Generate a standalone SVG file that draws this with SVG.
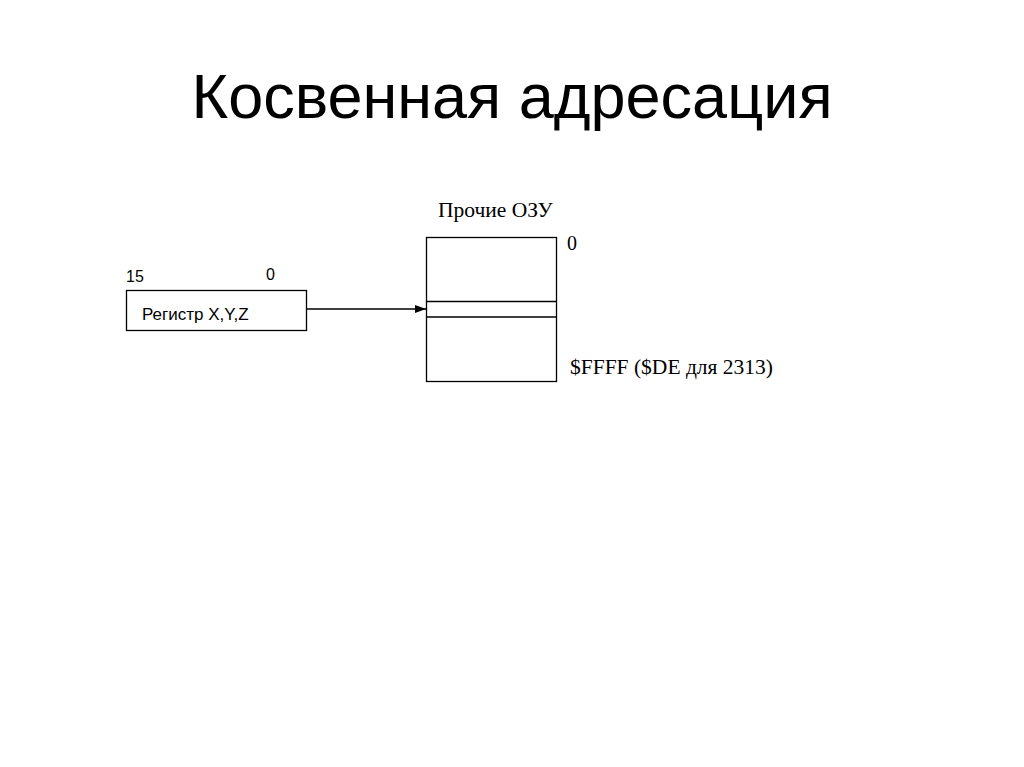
<svg xmlns="http://www.w3.org/2000/svg" width="1024" height="767" viewBox="0 0 1024 767">
<style>
.sans{font-family:"Liberation Sans",Arial,sans-serif;fill:#000}
.serif{font-family:"Liberation Serif","Times New Roman",serif;fill:#000}
.box{fill:#fff;stroke:#000;stroke-width:1.3}
.ln{stroke:#000;stroke-width:1.3;fill:none}
</style>
<defs>
<marker id="arr" markerWidth="11" markerHeight="8" refX="11" refY="4" orient="auto" markerUnits="userSpaceOnUse">
<path d="M0,0 L11,4 L0,8 Z" fill="#000"/>
</marker>
</defs>
<rect width="1024" height="767" fill="#fff"/>
<text id="title" class="sans" x="512" y="118" font-size="63" text-anchor="middle">Косвенная адресация</text>
<g id="register">
<rect class="box" x="126.5" y="290.5" width="180" height="40"/>
<text class="sans" x="142" y="320" font-size="17">Регистр X,Y,Z</text>
<text class="sans" x="126" y="282" font-size="16">15</text>
<text class="sans" x="266" y="280" font-size="16">0</text>
</g>
<g id="memory">
<rect class="box" x="426.5" y="237.5" width="130" height="144"/>
<line class="ln" x1="426.5" y1="301.5" x2="556.5" y2="301.5"/>
<line class="ln" x1="426.5" y1="317" x2="556.5" y2="317"/>
<text class="serif" x="438" y="217" font-size="21.5">Прочие ОЗУ</text>
<text class="serif" x="567" y="250" font-size="20">0</text>
<text class="serif" x="570" y="374" font-size="21.5">$FFFF ($DE для 2313)</text>
</g>
<g id="connectors">
<line class="ln" x1="306.5" y1="309" x2="426" y2="309" marker-end="url(#arr)"/>
</g>
</svg>
